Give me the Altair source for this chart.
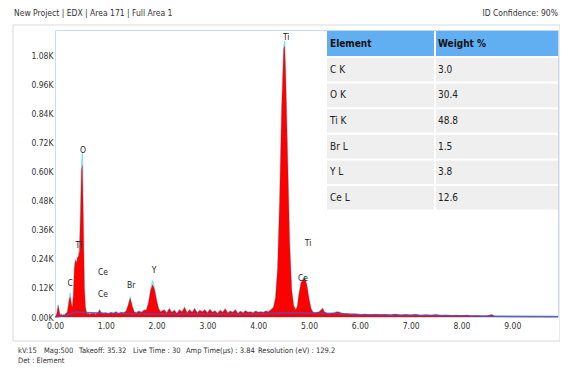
import altair as alt
import pandas as pd

# ---------------- data ----------------
energy = [0.00, 0.02, 0.04, 0.06, 0.08, 0.10, 0.12, 0.14, 0.16, 0.18, 0.20, 0.22, 0.24, 0.26, 0.28,
          0.30, 0.32, 0.34, 0.36, 0.38, 0.40, 0.42, 0.44, 0.46, 0.48, 0.50, 0.52, 0.54, 0.56, 0.58,
          0.60, 0.62, 0.64, 0.66, 0.68, 0.70, 0.75, 0.80, 0.85, 0.88, 0.91, 0.95, 1.00, 1.05, 1.10,
          1.15, 1.20, 1.25, 1.30, 1.35, 1.40, 1.44, 1.48, 1.52, 1.56, 1.60, 1.65, 1.70, 1.75, 1.80,
          1.84, 1.88, 1.92, 1.96, 2.00, 2.04, 2.08, 2.15, 2.20, 2.25, 2.30, 2.35, 2.40, 2.45, 2.50,
          2.55, 2.60, 2.65, 2.70, 2.75, 2.80, 2.85, 2.90, 2.95, 3.00, 3.05, 3.10, 3.15, 3.20, 3.25,
          3.30, 3.35, 3.40, 3.45, 3.50, 3.55, 3.60, 3.65, 3.70, 3.75, 3.80, 3.85, 3.90, 3.95, 4.00,
          4.05, 4.10, 4.15, 4.20, 4.25, 4.30, 4.34, 4.38, 4.42, 4.46, 4.50, 4.52, 4.54, 4.58, 4.62,
          4.66, 4.70, 4.74, 4.77, 4.80, 4.84, 4.88, 4.92, 4.96, 5.00, 5.04, 5.08, 5.12, 5.16, 5.20,
          5.24, 5.27, 5.30, 5.35, 5.40, 5.45, 5.50, 5.55, 5.60, 5.65, 5.70, 5.75, 5.80, 5.90, 6.00,
          6.10, 6.20, 6.30, 6.40, 6.50, 6.60, 6.70, 6.80, 6.90, 7.00, 7.10, 7.20, 7.30, 7.40, 7.50,
          7.60, 7.70, 7.80, 7.90, 8.00, 8.10, 8.20, 8.30, 8.40, 8.50, 8.60, 8.65, 8.70, 8.80, 9.00,
          9.20, 9.40, 9.60, 9.90]

counts_k = [0.000, 0.005, 0.020, 0.050, 0.030, 0.008, 0.012, 0.006, 0.010, 0.008, 0.012, 0.015, 0.020, 0.045, 0.075,
            0.085, 0.060, 0.040, 0.090, 0.200, 0.235, 0.225, 0.245, 0.250, 0.270, 0.420, 0.610, 0.630, 0.380, 0.120,
            0.040, 0.020, 0.012, 0.015, 0.010, 0.012, 0.015, 0.010, 0.020, 0.030, 0.018, 0.012, 0.018, 0.012, 0.020,
            0.015, 0.022, 0.014, 0.020, 0.018, 0.025, 0.050, 0.080, 0.045, 0.022, 0.018, 0.025, 0.020, 0.028, 0.030,
            0.060, 0.110, 0.135, 0.115, 0.070, 0.035, 0.022, 0.030, 0.018, 0.035, 0.020, 0.028, 0.015, 0.030, 0.022,
            0.040, 0.018, 0.030, 0.020, 0.035, 0.018, 0.028, 0.022, 0.030, 0.018, 0.032, 0.020, 0.026, 0.016, 0.028,
            0.020, 0.034, 0.018, 0.025, 0.020, 0.030, 0.016, 0.024, 0.018, 0.026, 0.020, 0.022, 0.018, 0.025, 0.020,
            0.022, 0.020, 0.025, 0.022, 0.030, 0.040, 0.080, 0.200, 0.480, 0.860, 1.110, 1.120, 1.010, 0.650, 0.300,
            0.110, 0.045, 0.030, 0.045, 0.095, 0.140, 0.155, 0.160, 0.130, 0.075, 0.035, 0.020, 0.018, 0.020, 0.022,
            0.030, 0.036, 0.022, 0.015, 0.014, 0.016, 0.018, 0.022, 0.020, 0.016, 0.012, 0.014, 0.010, 0.012, 0.009,
            0.012, 0.008, 0.011, 0.008, 0.010, 0.007, 0.012, 0.007, 0.010, 0.008, 0.011, 0.006, 0.009, 0.007, 0.010,
            0.006, 0.008, 0.005, 0.007, 0.005, 0.008, 0.004, 0.006, 0.004, 0.005, 0.010, 0.003, 0.001, 0.000, 0.000,
            0.000, 0.000, 0.000, 0.000]

# fitted (cyan) outline: tips that stand above the measured spectrum
fit_tip_energy = [0.30, 0.48, 0.54, 1.92, 4.52, 4.92, 8.80, 9.00, 9.20, 9.40, 9.60, 9.90]
fit_tip_k = [0.100, 0.290, 0.680, 0.150, 1.140, 0.168, 0.003, 0.003, 0.003, 0.003, 0.003, 0.003]

bg_energy = [0.0, 0.2, 0.4, 0.6, 1.0, 1.5, 2.0, 3.0, 4.0, 4.5, 5.0, 5.5, 6.0, 7.0, 8.0, 9.0, 9.9]
bg_k = [0.000, 0.005, 0.020, 0.018, 0.015, 0.014, 0.013, 0.012, 0.012, 0.018, 0.016, 0.014, 0.010, 0.007, 0.005, 0.002, 0.001]

peak_names = ["C", "Ti", "O", "Ce", "Ce", "Br", "Y", "Ti", "Ti", "Ce"]
peak_energy = [0.30, 0.47, 0.55, 0.945, 0.945, 1.50, 1.95, 4.55, 4.98, 4.88]
peak_label_k = [0.140, 0.297, 0.690, 0.186, 0.095, 0.132, 0.194, 1.158, 0.305, 0.161]

elements = ["C K", "O K", "Ti K", "Br L", "Y L", "Ce L"]
weights = ["3.0", "30.4", "48.8", "1.5", "3.8", "12.6"]

y_ticks = [0.00, 0.12, 0.24, 0.36, 0.48, 0.60, 0.72, 0.84, 0.96, 1.08]
x_ticks = [0, 1, 2, 3, 4, 5, 6, 7, 8, 9]

title_left = "New Project | EDX | Area 171 | Full Area 1"
title_right = "ID Confidence: 90%"
meta_items = ["kV:15", "Mag:500", "Takeoff: 35.32", "Live Time : 30", "Amp Time(µs) : 3.84", "Resolution (eV) : 129.2"]
meta_x = [-37, -11, 24, 78, 131, 203]
det_text = "Det : Element"

# ---------------- build ----------------
FONT = "'DejaVu Sans Condensed', 'Liberation Sans Narrow', 'Liberation Sans', sans-serif"
W, H = 503, 287

spec = pd.DataFrame({"E": energy, "C": counts_k})
tips = dict(zip(fit_tip_energy, fit_tip_k))
fit = pd.DataFrame({"E": energy, "C": [tips.get(e, c) for e, c in zip(energy, counts_k)]})
bg = pd.DataFrame({"E": bg_energy, "C": bg_k})
peaks = pd.DataFrame({"name": peak_names, "E": peak_energy, "C": peak_label_k})
table = pd.DataFrame({"el": elements, "w": weights, "row": list(range(len(elements)))})

xs = alt.Scale(domain=[0, 9.9], nice=False, zero=False)
ys = alt.Scale(domain=[0, 1.185], nice=False)

x_axis = alt.Axis(values=x_ticks, format=".2f", title=None, ticks=False,
                  labelFont=FONT, labelFontSize=8.5, labelColor="#333", labelPadding=4, grid=False,
                  domainColor="#bfe3ee", labelFlush=False, labelOverlap=False)
y_axis = alt.Axis(values=y_ticks, labelExpr="format(datum.value, '.2f') + 'K'",
                  title=None, ticks=False, labelFont=FONT, labelFontSize=8.5, labelColor="#333", labelPadding=2,
                  grid=False, domainColor="#c9dcea", labelOverlap=False, labelFlush=False)
x_enc = alt.X("E:Q", scale=xs, axis=x_axis)
y_enc = alt.Y("C:Q", scale=ys, axis=y_axis)

frame = alt.Chart(pd.DataFrame({"a": [0]})).mark_rect(fillOpacity=0, stroke="#d9d9d9", strokeWidth=1).encode(
    x=alt.value(-42), x2=alt.value(W + 2), y=alt.value(-5), y2=alt.value(311))

fit_line = alt.Chart(fit).mark_line(color="#86e3f2", strokeWidth=1.3).encode(x=x_enc, y=y_enc)
area = alt.Chart(spec).mark_area(color="#ff0000", opacity=1, line=False).encode(x=x_enc, y=y_enc)
bg_line = alt.Chart(bg).mark_line(color="#6b45a8", strokeWidth=1.6, opacity=0.85).encode(x=x_enc, y=y_enc)

labels = alt.Chart(peaks).mark_text(font=FONT, fontSize=8.5, color="#222", baseline="middle", align="center").encode(
    x=x_enc, y=y_enc, text="name:N")

ROW_Y0, ROW_H = 27, 25.6
tb = alt.Chart(table).transform_calculate(
    y0=f"{ROW_Y0} + datum.row * {ROW_H} + 1", y1=f"{ROW_Y0} + datum.row * {ROW_H} + {ROW_H - 1}",
    yc=f"{ROW_Y0} + datum.row * {ROW_H} + {ROW_H / 2}")
cell1 = tb.mark_rect(color="#efefef").encode(
    x=alt.value(272), x2=alt.value(379), y=alt.Y("y0:Q", scale=None), y2=alt.Y2("y1:Q"))
cell2 = tb.mark_rect(color="#efefef").encode(
    x=alt.value(381), x2=alt.value(W), y=alt.Y("y0:Q", scale=None), y2=alt.Y2("y1:Q"))
t1 = tb.mark_text(font=FONT, fontSize=10, color="#222", align="left", baseline="middle").encode(
    x=alt.value(275), y=alt.Y("yc:Q", scale=None), text="el:N")
t2 = tb.mark_text(font=FONT, fontSize=10, color="#222", align="left", baseline="middle").encode(
    x=alt.value(383), y=alt.Y("yc:Q", scale=None), text="w:N")

hdr_df = pd.DataFrame({"t": ["Element", "Weight %"], "c": [0, 1]})
hdr = alt.Chart(hdr_df).transform_calculate(
    xa="datum.c == 0 ? 272 : 381", xb=f"datum.c == 0 ? 379 : {W}", xt="datum.c == 0 ? 275 : 383")
hdr_rect = hdr.mark_rect(color="#62aef3").encode(
    x=alt.X("xa:Q", scale=None), x2=alt.X2("xb:Q"), y=alt.value(1), y2=alt.value(26))
hdr_text = hdr.mark_text(font=FONT, fontSize=10, fontWeight="bold", color="#111", align="left",
                         baseline="middle").encode(x=alt.X("xt:Q", scale=None), y=alt.value(14), text="t:N")

one = pd.DataFrame({"a": [0]})
tl = alt.Chart(one).mark_text(text=title_left, font=FONT, fontSize=8.5, color="#333", align="left",
                              baseline="top").encode(x=alt.value(-41), y=alt.value(-21))
tr = alt.Chart(one).mark_text(text=title_right, font=FONT, fontSize=8.5, color="#333", align="right",
                              baseline="top").encode(x=alt.value(W), y=alt.value(-21))
meta_df = pd.DataFrame({"t": meta_items, "px": meta_x})
meta = alt.Chart(meta_df).mark_text(font=FONT, fontSize=7.5, color="#333", align="left", baseline="middle").encode(
    x=alt.X("px:Q", scale=None), y=alt.value(321), text="t:N")
det = alt.Chart(one).mark_text(text=det_text, font=FONT, fontSize=7.5, color="#333", align="left",
                               baseline="middle").encode(x=alt.value(-37), y=alt.value(331))

chart = alt.layer(frame, fit_line, area, bg_line, labels, hdr_rect, hdr_text, cell1, cell2, t1, t2,
                  tl, tr, meta, det).properties(
    width=W, height=H, padding={"left": 47, "top": 22, "right": 2, "bottom": 48},
    autosize=alt.AutoSizeParams(type="none"), background="white"
).configure_view(stroke="#c5dcee", strokeWidth=1).configure_axis(labelOverlap=False)

chart.save("out.html", embed_options={"renderer": "svg", "actions": False})
